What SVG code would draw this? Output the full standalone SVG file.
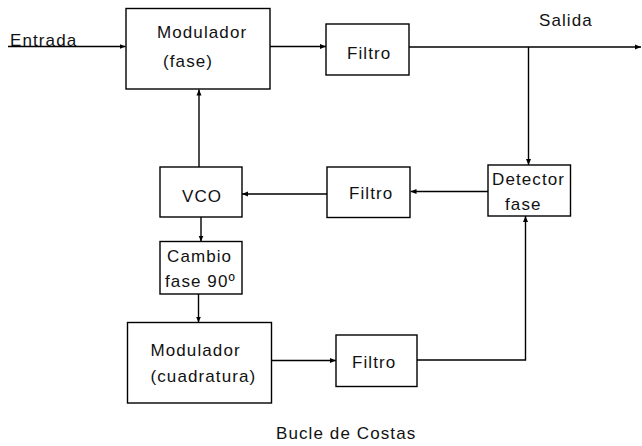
<svg xmlns="http://www.w3.org/2000/svg" width="642" height="446" viewBox="0 0 642 446">
<style>
rect.box{fill:#fff;stroke:#000;stroke-width:1.4}
text{font-family:"Liberation Sans",Arial,sans-serif;font-size:17px;fill:#111;letter-spacing:1.1px}
.c{fill:none;stroke:#000;stroke-width:1.4}
</style>
<defs>
<marker id="a" viewBox="0 0 6 6" refX="6" refY="3" markerWidth="6" markerHeight="6" markerUnits="userSpaceOnUse" orient="auto">
<path d="M0,0.5 L6,3 L0,5.5 Z" fill="#000"/>
</marker>
</defs>
<rect width="642" height="446" fill="#fff"/>
<g id="connectors">
<path class="c" d="M8,46.5 H125.5" marker-end="url(#a)"/>
<path class="c" d="M270,46.5 H326" marker-end="url(#a)"/>
<path class="c" d="M409,47 H641" marker-end="url(#a)"/>
<path class="c" d="M528.5,47 V165" marker-end="url(#a)"/>
<path class="c" d="M488,191.5 H410.5" marker-end="url(#a)"/>
<path class="c" d="M327,194 H242" marker-end="url(#a)"/>
<path class="c" d="M199,167 V89.5" marker-end="url(#a)"/>
<path class="c" d="M201,217 V241.5" marker-end="url(#a)"/>
<path class="c" d="M198.5,294 V322.5" marker-end="url(#a)"/>
<path class="c" d="M272,360.5 H336" marker-end="url(#a)"/>
<path class="c" d="M417,360 H525.5 V216" marker-end="url(#a)"/>
</g>
<g id="mod-fase">
<rect class="box" x="126" y="8.5" width="144" height="80.5"/>
<text x="157" y="38">Modulador</text>
<text x="163" y="67">(fase)</text>
</g>
<g id="filtro1">
<rect class="box" x="326" y="24" width="83" height="51"/>
<text x="347" y="59">Filtro</text>
</g>
<g id="detector">
<rect class="box" x="488" y="165" width="82.5" height="51"/>
<text x="492" y="185">Detector</text>
<text x="505" y="210">fase</text>
</g>
<g id="filtro2">
<rect class="box" x="327" y="167" width="83" height="50.5"/>
<text x="349" y="199">Filtro</text>
</g>
<g id="vco">
<rect class="box" x="160" y="167" width="82" height="50"/>
<text x="182" y="201.5">VCO</text>
</g>
<g id="cambio">
<rect class="box" x="160" y="241.5" width="82" height="52.5"/>
<text x="167" y="261.5">Cambio</text>
<text x="165" y="286.5">fase 90º</text>
</g>
<g id="mod-cuad">
<rect class="box" x="127.5" y="322.5" width="144" height="80.5"/>
<text x="150.5" y="356">Modulador</text>
<text x="150.5" y="381.5">(cuadratura)</text>
</g>
<g id="filtro3">
<rect class="box" x="336" y="335" width="81" height="51.5"/>
<text x="352" y="368">Filtro</text>
</g>
<g id="labels">
<text x="10" y="46">Entrada</text>
<text x="539" y="26">Salida</text>
<text x="276" y="439">Bucle de Costas</text>
</g>
</svg>
